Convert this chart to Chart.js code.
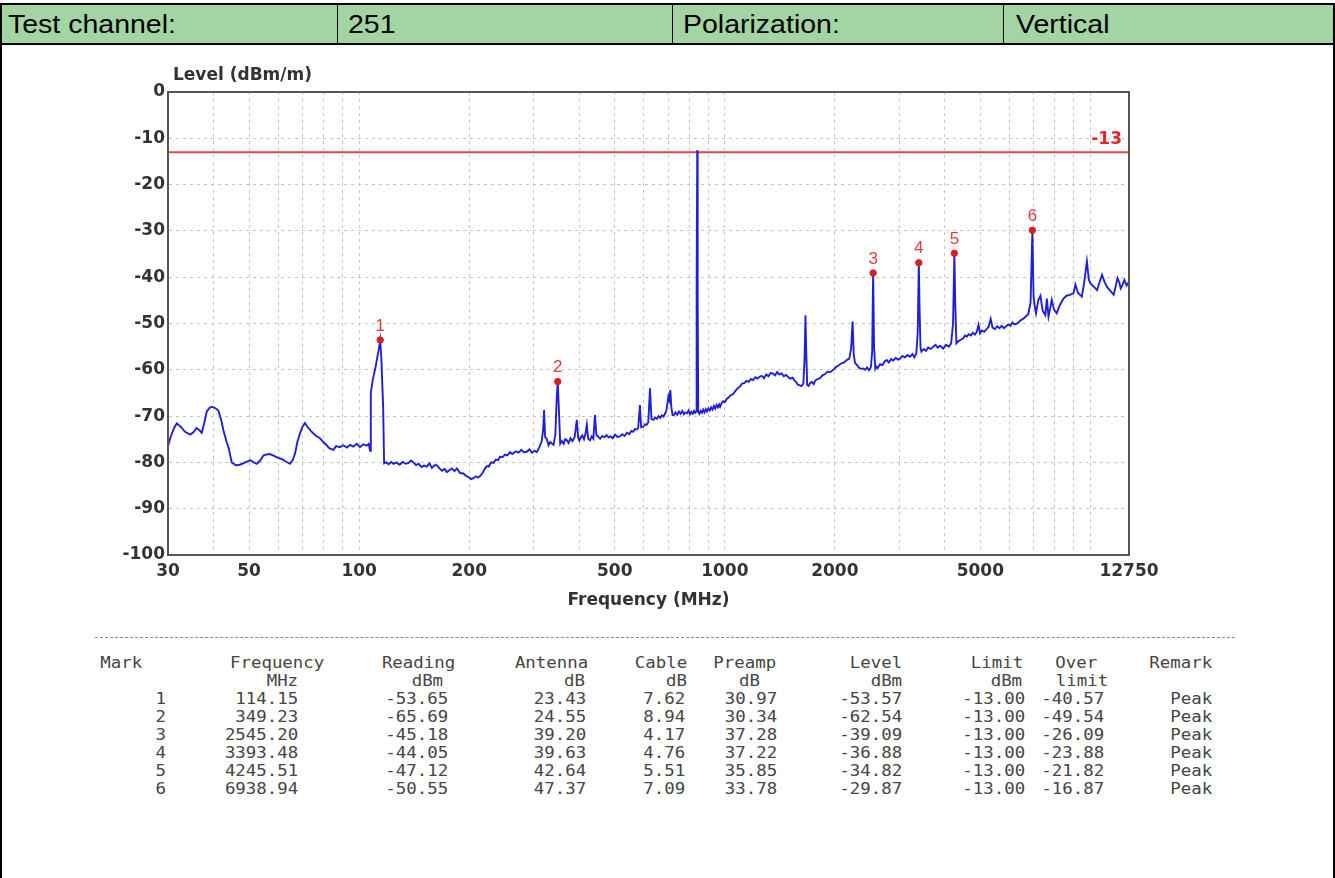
<!DOCTYPE html>
<html>
<head>
<meta charset="utf-8">
<script src="https://cdn.jsdelivr.net/npm/chart.js@4.4.1/dist/chart.umd.min.js"></script>
<style>
  html, body { margin:0; padding:0; background:#fff; }
  #page { position:relative; width:1335px; height:878px; overflow:hidden; background:#fff; }
  #hdr { position:absolute; left:0; top:3px; width:1331px; height:38px; background:#a3d4a3;
         border:2px solid #000; font-family:"Liberation Sans", Arial, sans-serif; font-size:25px; color:#000; z-index:2; }
  #hdr .c { position:absolute; top:0; height:38px; line-height:38px; transform:scaleX(1.14); transform-origin:left center; white-space:pre; }
  #hdr .d { position:absolute; top:0; width:1px; height:38px; background:#000; }
  .vline { position:absolute; top:40px; width:2px; height:838px; background:#000; }
  #chart { position:absolute; left:0; top:0; z-index:1; }
  #dash { position:absolute; left:95px; top:637px; width:1140px; border-top:1px dashed #8a8a8a; }
  #tbl { position:absolute; left:0; top:0; width:1335px; height:878px; font-family:"DejaVu Sans Mono", monospace; font-size:15px; color:#454545; }
  #tbl span { position:absolute; line-height:18px; white-space:pre; transform:scaleX(1.16); transform-origin:right center; }
</style>
</head>
<body>
<div id="page">
  <div id="hdr">
    <div class="c" style="left:6px">Test channel:</div>
    <div class="d" style="left:335px"></div>
    <div class="c" style="left:346px">251</div>
    <div class="d" style="left:670px"></div>
    <div class="c" style="left:681px">Polarization:</div>
    <div class="d" style="left:1001px"></div>
    <div class="c" style="left:1014px">Vertical</div>
  </div>
  <div class="vline" style="left:0"></div>
  <div class="vline" style="left:1333px"></div>
  <canvas id="chart" width="1335" height="620"></canvas>
  <div id="dash"></div>
  <div id="tbl"></div>
</div>
<script>
// ---------- data ----------
const xTickValues = [30,40,50,60,70,80,90,100,200,300,400,500,600,700,800,900,1000,2000,3000,4000,5000,6000,7000,8000,9000,10000,12750];
const xTickLabels = [30,50,100,200,500,1000,2000,5000,12750];
const yTitle = "Level (dBm/m)";
const xTitle = "Frequency (MHz)";
const limitLevel = -13;

const traceFreq = [30,30.5,31.2,31.7,32.5,33.4,34.5,35.2,35.9,36.5,37.1,37.7,38.3,39.0,39.5,40.3,41.2,42.0,42.5,43.4,44.0,44.8,46.0,47.2,48.5,49.5,50.3,51.5,52.5,53.6,54.7,55.8,57.0,58.5,60.0,61.5,63.0,64.7,65.8,66.8,67.8,68.9,70.0,71.1,72.5,74.2,76.0,78.1,79.8,81.5,83.0,85.0,86.5,88.6,90.5,92.5,94.5,96.4,98.5,100.5,102.5,104.8,106.2,107.1,107.6,109.0,110.5,112.0,113.2,114.15,115.0,115.6,116.3,117.0,118.5,120.5,122.3,124.1,126.5,129.0,131.5,134.0,136.5,138.6,140.7,143.0,145.5,148.0,150.5,153.1,155.6,158.2,160.7,163.1,165.8,168.6,171.2,173.7,176.5,179.3,182.2,185.0,188.8,192.7,196.0,199.5,202.5,205.4,208.5,211.5,214.4,217.5,220.5,223.5,226.0,229.5,233.0,236.5,239.8,242.6,246.5,250.5,254.5,258.5,262.0,264.0,268.5,273.0,277.5,282.0,287.2,292.0,297.0,302.0,306.0,310.5,315.6,318.5,320.5,322.5,326.0,329.5,333.0,336.3,340.0,344.0,347.0,349.23,351.5,354.7,358.5,362.5,366.0,369.9,374.0,378.5,383.0,388.5,393.9,397.0,400.0,403.0,407.5,412.0,415.8,419.4,423.0,428.0,432.5,437.0,441.4,445.5,450.0,456.0,462.0,468.5,474.8,481.0,487.5,494.0,501.0,508.5,516.4,524.0,532.0,540.0,548.0,555.0,561.6,568.0,574.0,579.6,585.9,590.5,598.0,605.0,611.0,617.5,624.4,630.0,638.0,645.0,652.0,659.0,666.0,673.0,680.0,686.0,692.0,697.5,701.0,705.0,709.7,714.0,719.5,725.0,733.0,741.0,749.0,757.0,765.0,773.0,780.0,788.4,796.0,803.0,810.0,817.0,824.0,830.0,835.0,837.5,840.6,843.0,846.0,852.0,859.0,866.0,873.0,880.0,887.0,894.0,902.0,910.0,918.0,926.0,934.0,942.0,950.0,958.0,965.0,971.0,980.0,990.0,1000,1012,1024,1037,1053,1068,1084,1100,1115,1130,1146,1162,1178,1195,1212,1228,1245,1262,1280,1298,1316,1334,1353,1372,1391,1410,1430,1450,1471,1492,1513,1534,1550,1566,1583,1600,1620,1640,1652,1662,1670,1680,1695,1711,1730,1750,1770,1795,1822,1850,1880,1910,1945,1980,2015,2050,2085,2120,2154,2190,2215,2236,2252,2270,2300,2330,2360,2390,2420,2450,2480,2510,2530,2545.2,2560,2580,2600,2620,2660,2700,2735,2772,2810,2850,2890,2935,2975,3015,3060,3110,3160,3210,3260,3300,3340,3370,3393.48,3410,3430,3450,3500,3550,3600,3660,3717,3770,3820,3880,3957,4030,4100,4160,4210,4245.51,4270,4300,4360,4420,4491,4540,4592,4650,4710,4770,4830,4890,4943,4990,5050,5120,5200,5270,5335,5400,5480,5560,5640,5720,5801,5880,5960,6040,6120,6200,6318,6420,6540,6657,6760,6860,6938.94,6990,7050,7100,7200,7300,7400,7530,7600,7680,7760,7839,7950,8090,8250,8441,8600,8780,8988,9100,9250,9477,9620,9780,9900,9990,10200,10425,10600,10758,10930,11103,11350,11580,11720,11860,12000,12100,12250,12380,12560,12750];
const traceLevel = [-76.5,-74.5,-72.5,-71.6,-72.3,-73.4,-74.0,-73.5,-72.6,-73.0,-73.6,-71.5,-69.0,-68.2,-68.0,-68.2,-68.8,-71.0,-73.0,-75.6,-77.0,-80.0,-80.6,-80.5,-80.1,-79.8,-79.5,-80.0,-80.3,-79.6,-78.5,-78.3,-78.2,-78.6,-79.0,-79.3,-79.8,-80.3,-79.5,-78.0,-75.5,-73.7,-72.3,-71.5,-72.5,-73.4,-74.2,-74.8,-75.6,-76.3,-77.0,-77.3,-76.5,-76.7,-76.3,-76.8,-76.2,-76.6,-76.0,-76.7,-76.1,-76.4,-76.0,-77.5,-65.0,-62.0,-60.0,-57.5,-55.5,-53.6,-57.5,-62.5,-68.0,-80.2,-80.0,-80.4,-79.9,-80.3,-80.0,-80.5,-79.9,-80.3,-80.1,-79.6,-80.0,-80.6,-80.3,-81.0,-80.7,-80.9,-80.2,-81.2,-80.6,-80.6,-81.3,-81.8,-81.4,-82.1,-81.7,-81.3,-81.9,-81.3,-82.3,-82.4,-82.9,-83.2,-83.6,-83.4,-83.0,-83.3,-82.9,-82.3,-81.4,-80.8,-80.9,-80.0,-80.1,-79.4,-79.5,-78.8,-78.9,-78.3,-78.5,-77.8,-78.2,-78.0,-77.6,-77.9,-77.3,-77.8,-77.7,-77.2,-77.9,-77.5,-77.8,-76.8,-75.5,-73.0,-68.7,-74.5,-75.0,-76.3,-75.6,-75.9,-76.2,-74.0,-66.0,-62.54,-68.0,-76.0,-75.4,-76.0,-75.0,-75.2,-75.8,-74.8,-75.4,-74.5,-70.8,-74.6,-75.3,-74.8,-74.2,-75.0,-73.8,-71.9,-74.9,-75.2,-74.4,-74.9,-69.8,-74.1,-74.4,-74.9,-74.3,-74.6,-74.1,-74.6,-74.4,-74.8,-74.0,-74.5,-74.4,-73.9,-74.3,-73.6,-73.9,-73.2,-73.4,-72.8,-72.9,-72.6,-67.6,-72.4,-72.3,-71.8,-71.9,-71.3,-64.0,-70.6,-70.8,-70.3,-70.6,-70.0,-70.4,-69.8,-70.1,-69.5,-68.8,-67.0,-65.8,-66.5,-64.4,-68.0,-69.8,-69.8,-69.2,-69.7,-69.0,-69.5,-68.9,-69.6,-69.2,-69.4,-68.8,-69.6,-69.1,-69.5,-68.9,-69.3,-69.0,-42.0,-12.6,-44.5,-69.0,-69.5,-68.9,-69.3,-68.6,-69.2,-68.5,-69.0,-68.3,-68.8,-68.1,-68.6,-67.8,-68.4,-67.6,-68.1,-67.5,-68.0,-67.2,-66.8,-67.0,-66.3,-66.0,-65.5,-65.3,-64.6,-64.0,-63.6,-63.0,-62.9,-62.4,-62.6,-62.0,-62.2,-61.6,-61.9,-61.5,-61.3,-61.8,-61.0,-61.4,-60.7,-60.8,-61.2,-60.5,-61.0,-60.8,-61.4,-61.1,-61.6,-61.9,-61.7,-62.3,-62.6,-63.2,-63.3,-63.5,-63.0,-58.0,-48.2,-56.0,-63.3,-63.5,-62.9,-62.6,-63.1,-62.3,-62.0,-61.8,-61.2,-60.9,-60.4,-60.5,-60.0,-59.4,-59.0,-58.6,-58.4,-57.9,-57.6,-55.5,-49.6,-56.5,-58.5,-59.0,-59.6,-59.8,-59.7,-60.0,-59.5,-60.1,-59.4,-56.0,-39.09,-55.0,-59.8,-59.3,-59.6,-58.8,-59.0,-58.2,-57.9,-58.4,-57.7,-58.0,-57.4,-57.8,-57.6,-57.0,-57.3,-56.8,-57.2,-56.6,-57.3,-56.5,-52.0,-36.88,-47.0,-55.2,-56.1,-55.5,-55.9,-55.2,-55.5,-55.0,-54.6,-55.2,-54.8,-55.4,-54.6,-55.0,-54.3,-50.0,-34.82,-46.0,-54.3,-53.8,-53.5,-53.2,-52.6,-52.8,-52.3,-52.6,-52.0,-52.4,-51.8,-50.3,-52.1,-51.5,-51.8,-51.2,-50.7,-49.0,-50.9,-51.2,-50.6,-51.0,-50.5,-51.0,-50.6,-50.2,-50.5,-49.8,-50.2,-50.0,-49.4,-49.0,-48.5,-48.0,-45.5,-29.87,-44.2,-46.5,-47.8,-45.0,-44.0,-47.2,-48.2,-44.6,-48.5,-46.8,-44.9,-47.0,-47.8,-46.0,-44.6,-44.0,-43.8,-43.5,-41.6,-43.4,-44.2,-41.0,-36.6,-40.5,-41.3,-42.0,-42.8,-41.0,-39.5,-41.0,-42.1,-43.0,-43.8,-42.0,-40.2,-41.2,-42.4,-41.6,-40.6,-41.8,-41.0];

// marker table
const markNo    = [1,2,3,4,5,6];
const markFreq  = [114.15,349.23,2545.20,3393.48,4245.51,6938.94];
const markRead  = [-53.65,-65.69,-45.18,-44.05,-47.12,-50.55];
const markAnt   = [23.43,24.55,39.20,39.63,42.64,47.37];
const markCable = [7.62,8.94,4.17,4.76,5.51,7.09];
const markPre   = [30.97,30.34,37.28,37.22,35.85,33.78];
const markLevel = [-53.57,-62.54,-39.09,-36.88,-34.82,-29.87];
const markLimit = [-13.00,-13.00,-13.00,-13.00,-13.00,-13.00];
const markOver  = [-40.57,-49.54,-26.09,-23.88,-21.82,-16.87];
const markRemark= ["Peak","Peak","Peak","Peak","Peak","Peak"];

// ---------- chart ----------
const overlay = {
  id:'overlay',
  afterDatasetsDraw(chart){
    const {ctx, chartArea:a, scales:{x, y}} = chart;
    ctx.save();
    ctx.strokeStyle = '#555'; ctx.lineWidth = 2;
    ctx.strokeRect(a.left, a.top, a.right - a.left, a.bottom - a.top);
    ctx.fillStyle = '#333'; ctx.font = 'bold 17px "DejaVu Sans"';
    ctx.textAlign = 'left'; ctx.textBaseline = 'middle';
    ctx.fillText(yTitle, a.left + 5, a.top - 16);
    ctx.fillStyle = '#e02828'; ctx.textAlign = 'right';
    ctx.fillText(String(limitLevel), a.right - 7, y.getPixelForValue(limitLevel) - 13);
    ctx.font = '17px "Liberation Sans"'; ctx.textAlign = 'center'; ctx.fillStyle = '#e03c3c';
    markFreq.forEach((f, i) => {
      ctx.fillText(String(markNo[i]), x.getPixelForValue(f), y.getPixelForValue(markLevel[i]) - 14);
    });
    ctx.restore();
  }
};

const tickFont = {family:'"DejaVu Sans"', size:17, weight:'bold'};
new Chart(document.getElementById('chart'), {
  type:'line',
  data:{
    datasets:[
      { data: markFreq.map((f,i)=>({x:f, y:markLevel[i]})), showLine:false, pointRadius:3.2,
        pointBackgroundColor:'#d82020', pointBorderColor:'#d82020', order:0 },
      { data: traceFreq.map((f,i)=>({x:f, y:traceLevel[i]})), borderColor:'#2020d4', borderWidth:1.9,
        pointRadius:0, tension:0, order:1 },
      { data: [{x:xTickValues[0], y:limitLevel},{x:xTickValues[xTickValues.length-1], y:limitLevel}],
        borderColor:'#e04848', borderWidth:2, pointRadius:0, order:2 }
    ]
  },
  options:{
    responsive:false, animation:false, devicePixelRatio:1,
    layout:{ padding:{ left:0, right:206, top:92, bottom:0 } },
    plugins:{ legend:{display:false}, tooltip:{enabled:false} },
    scales:{
      x:{
        type:'logarithmic', min:30, max:12750,
        afterBuildTicks:(s)=>{ s.ticks = xTickValues.map(v=>({value:v})); },
        afterFit:(s)=>{ s.height = 65; },
        grid:{ color:'#c4c4c4', lineWidth:1, drawTicks:false },
        border:{ display:true, color:'#555', width:2, dash:[3,4] },
        ticks:{ autoSkip:false, maxRotation:0, padding:6, color:'#333', font:tickFont,
                callback:(v)=> xTickLabels.includes(v) ? String(v) : '' },
        title:{ display:true, text:xTitle, color:'#333', font:tickFont, padding:{top:0,bottom:9} }
      },
      y:{
        min:-100, max:0,
        afterFit:(s)=>{ s.width = 168; },
        grid:{ color:'#c4c4c4', lineWidth:1, drawTicks:false },
        border:{ display:true, color:'#555', width:2, dash:[3,4] },
        ticks:{ stepSize:10, padding:3, color:'#333', font:tickFont }
      }
    }
  },
  plugins:[overlay]
});

// ---------- table ----------
const tbl = document.getElementById('tbl');
function put(text, right, top){
  const s = document.createElement('span');
  s.textContent = text;
  s.style.right = (1335 - right) + 'px';
  s.style.top = top + 'px';
  tbl.appendChild(s);
}
const colRight = [166, 298, 448, 586, 685, 777, 902, 1025, 1104, 1212];
const head1 = ["Mark","Frequency","Reading","Antenna","Cable","Preamp","Level","Limit","Over","Remark"];
const head1Right = [142, 324, 455, 588, 687, 776, 902, 1023, 1097, 1212];
const head2 = ["","MHz","dBm","dB","dB","dB","dBm","dBm","limit",""];
const head2Right = [0, 298, 443, 585, 687, 760, 902, 1022, 1108, 0];
const rowTop0 = 654, rowH = 18;
head1.forEach((h,i)=> put(h, head1Right[i], rowTop0));
head2.forEach((h,i)=> { if (h) put(h, head2Right[i], rowTop0 + rowH); });
markNo.forEach((m, r) => {
  const vals = [String(m), markFreq[r].toFixed(2), markRead[r].toFixed(2), markAnt[r].toFixed(2),
    markCable[r].toFixed(2), markPre[r].toFixed(2), markLevel[r].toFixed(2), markLimit[r].toFixed(2),
    markOver[r].toFixed(2), markRemark[r]];
  vals.forEach((v, c) => put(v, colRight[c], rowTop0 + rowH * (r + 2)));
});
</script>
</body>
</html>
